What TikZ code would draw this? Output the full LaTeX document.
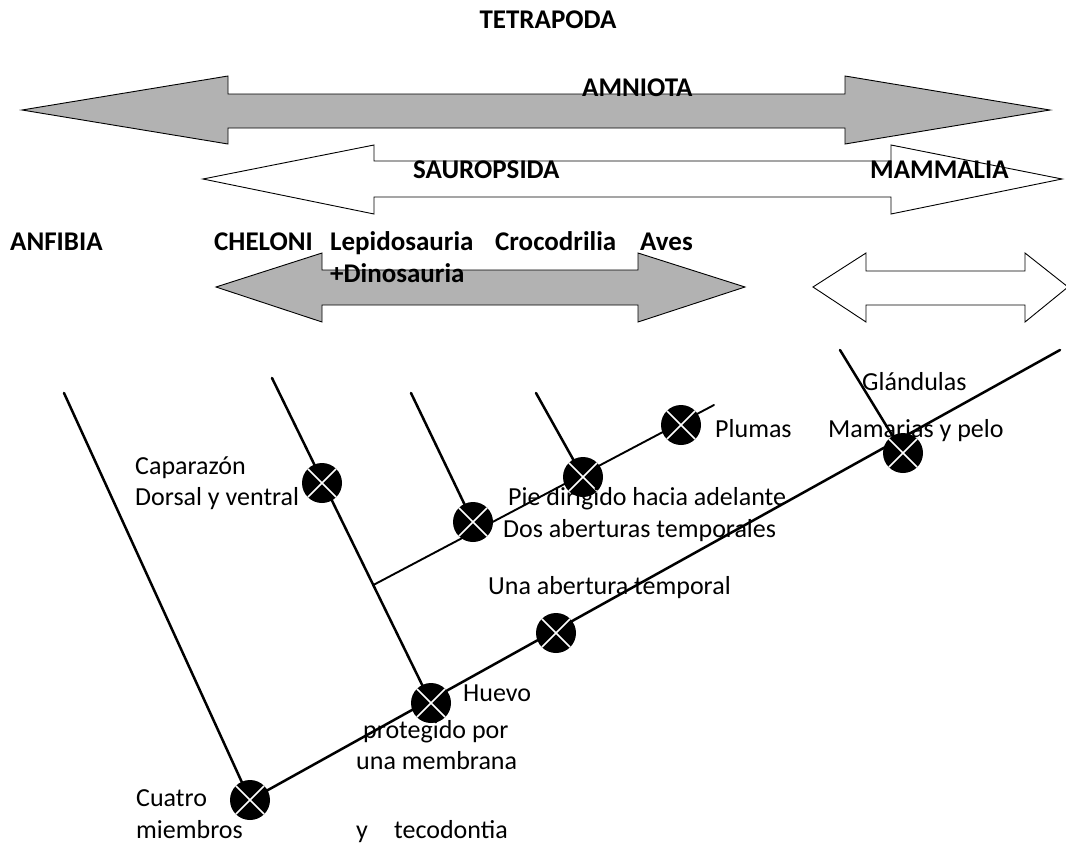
\documentclass[tikz,border=0pt]{standalone}
\usepackage{fontspec}
\setmainfont{Carlito}
\usetikzlibrary{backgrounds}
\begin{document}
\begin{tikzpicture}[x=1pt,y=-1pt,
  branch/.style={line width=2.5pt, line cap=round},
  thinbranch/.style={line width=1.9pt, line cap=round},
  apo/.style={circle, fill=black, minimum size=40pt, inner sep=0pt,
    path picture={\draw[white, line width=1.6pt]
      (path picture bounding box.north west) -- (path picture bounding box.south east)
      (path picture bounding box.north east) -- (path picture bounding box.south west);}},
  trait/.style={anchor=base west, inner sep=0pt, font=\fontsize{26}{31}\selectfont},
  taxon/.style={anchor=base west, inner sep=0pt, font=\bfseries\fontsize{27}{32}\selectfont},
  band/.style={draw=black, line width=0.9pt, line join=miter},
]
\useasboundingbox (0,0) rectangle (1066,846);

% clade bands
\path[band, fill=black!30] (22,110) -- (228,76) -- (228,94) -- (845,94) -- (845,76)
  -- (1050,110) -- (845,144) -- (845,128) -- (228,128) -- (228,144) -- cycle;
\path[band, fill=white] (203,179) -- (374,145) -- (374,161) -- (891,161) -- (891,145)
  -- (1062,179) -- (891,214) -- (891,197) -- (374,197) -- (374,214) -- cycle;
\path[band, fill=black!30] (216,287) -- (322,253) -- (322,270) -- (638,270) -- (638,253)
  -- (745,287) -- (638,322) -- (638,305) -- (322,305) -- (322,322) -- cycle;
\path[band, fill=white] (813,287) -- (866,253) -- (866,271) -- (1025,271) -- (1025,253)
  -- (1068,287) -- (1025,322) -- (1025,305) -- (866,305) -- (866,322) -- cycle;

% group names
\node[taxon, anchor=base] (tetra) at (548,28) {TETRAPODA};
\node[taxon] (amn) at (582,96) {AMNIOTA};
\node[taxon] (saur) at (413,178) {SAUROPSIDA};
\node[taxon] (mamm) at (870,178) {MAMMALIA};
\node[taxon] (anf) at (10,250) {ANFIBIA};
\node[taxon] (chel) at (214,250) {CHELONI};
\node[taxon] (lepi) at (330,250) {Lepidosauria};
\node[taxon] (croc) at (495,250) {Crocodrilia};
\node[taxon] (aves) at (640,250) {Aves};
\node[taxon] (dino) at (330,282) {+Dinosauria};

% synapomorphies
\node[apo] (cuatro) at (250,800) {};
\node[apo] (huevo) at (431,703) {};
\node[apo] (una) at (556,633) {};
\node[apo] (capa) at (322,483) {};
\node[apo] (dos) at (473,522) {};
\node[apo] (pie) at (583,477) {};
\node[apo] (plum) at (681,425) {};
\node[apo] (mam) at (903,453) {};

% free ends of the branches
\coordinate (tAnf) at (64,393);
\coordinate (tChel) at (272,378);
\coordinate (tLepi) at (411,393);
\coordinate (tCroc) at (536,393);
\coordinate (tAves) at (714,405);
\coordinate (tMamm) at (840,350);
\coordinate (tMain) at (1060,350);

\begin{pgfonlayer}{background}
\draw[branch] (tAnf) -- (cuatro.center);
\draw[branch] (cuatro.center) -- (tMain);
\draw[branch] (tChel) -- coordinate[pos=0.637] (junc) (huevo.center);
\draw[thinbranch] (junc) -- (tAves);
\draw[branch] (tLepi) -- (dos.center);
\draw[branch] (tCroc) -- (pie.center);
\draw[branch] (tMamm) -- (mam.center);
\end{pgfonlayer}

% character labels
\node[trait] (l1) at (135,474) {Caparazón};
\node[trait] (l2) at (135,505) {Dorsal y ventral};
\node[trait] (l3) at (715,437) {Plumas};
\node[trait] (l4) at (862,390) {Glándulas};
\node[trait] (l5) at (828,437) {Mamarias y pelo};
\node[trait] (l6) at (508,505) {Pie dirigido hacia adelante};
\node[trait] (l7) at (503,537) {Dos aberturas temporales};
\node[trait] (l8) at (488,594) {Una abertura temporal};
\node[trait] (l9) at (463,701) {Huevo};
\node[trait] (l10) at (363,738) {protegido por};
\node[trait] (l11) at (356,769) {una membrana};
\node[trait] (l12) at (136,806) {Cuatro};
\node[trait] (l13) at (136,838) {miembros};
\node[trait] (l14) at (356,838) {y};
\node[trait] (l15) at (394,838) {tecodontia};
\end{tikzpicture}
\end{document}
